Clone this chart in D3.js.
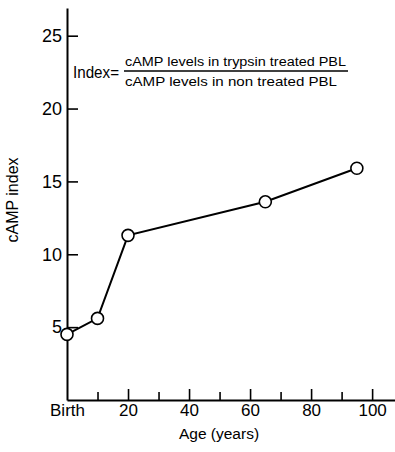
<!DOCTYPE html>
<html>
<head>
<meta charset="utf-8">
<script src="https://cdn.jsdelivr.net/npm/d3@7"></script>
<style>
  html, body { margin: 0; padding: 0; background: #fff; }
  svg { display: block; font-family: "Liberation Sans", Arial, sans-serif; }
</style>
</head>
<body>
<svg id="chart" width="395" height="452"></svg>
<script>
const ages = [0, 10, 20, 65, 95];
const campIndex = [4.5, 5.6, 11.3, 13.6, 15.9];
const yTicks = [5, 10, 15, 20, 25];
const xMajor = [0, 20, 40, 60, 80, 100];
const xMinor = [10, 30, 50, 70, 90];
const xLabels = ["Birth", "20", "40", "60", "80", "100"];

const svg = d3.select("#chart");
const x = d3.scaleLinear().domain([0, 107.5]).range([67, 395]);
const y = d3.scaleLinear().domain([0, 26.9]).range([400, 8]);

// y axis, ticks pointing inward
const gy = svg.append("g")
  .attr("transform", `translate(${x(0)},0)`)
  .call(d3.axisLeft(y).tickValues(yTicks).tickSizeInner(-11).tickSizeOuter(0).tickPadding(5));
gy.select(".domain").attr("stroke-width", 2);
gy.selectAll(".tick line").attr("stroke-width", 1.6);
gy.selectAll(".tick text").attr("font-size", 18).attr("fill", "#000");

// x axis: minor ticks first, then major ticks with labels
const gxMinor = svg.append("g")
  .attr("transform", `translate(0,${y(0)})`)
  .call(d3.axisBottom(x).tickValues(xMinor).tickSizeInner(-8).tickSizeOuter(0).tickFormat(""));
gxMinor.select(".domain").remove();
gxMinor.selectAll(".tick line").attr("stroke-width", 1.6);

const gx = svg.append("g")
  .attr("transform", `translate(0,${y(0)})`)
  .call(d3.axisBottom(x).tickValues(xMajor).tickSizeInner(-11).tickSizeOuter(0).tickPadding(4)
    .tickFormat((d, i) => xLabels[i]));
gx.select(".domain").attr("stroke-width", 2);
gx.selectAll(".tick line").attr("stroke-width", 1.6).filter(d => d === 0).remove();
gx.selectAll(".tick text").attr("font-size", 17).attr("fill", "#000");

// axis titles
svg.append("text")
  .attr("x", 219).attr("y", 439)
  .attr("text-anchor", "middle")
  .attr("font-size", 15.5)
  .text("Age (years)");

svg.append("text")
  .attr("transform", "translate(18,200) rotate(-90)")
  .attr("text-anchor", "middle")
  .attr("font-size", 16)
  .text("cAMP index");

// formula
const f = svg.append("g");
f.append("text").attr("x", 73).attr("y", 78).attr("font-size", 16)
  .attr("textLength", 46).attr("lengthAdjust", "spacingAndGlyphs").text("Index=");
f.append("line").attr("x1", 124).attr("x2", 348).attr("y1", 71).attr("y2", 71)
  .attr("stroke", "#000").attr("stroke-width", 1.5);
f.append("text").attr("x", 125).attr("y", 65.5).attr("font-size", 12.5)
  .attr("textLength", 221).attr("lengthAdjust", "spacingAndGlyphs")
  .text("cAMP levels in trypsin treated PBL");
f.append("text").attr("x", 125).attr("y", 86).attr("font-size", 12.5)
  .attr("textLength", 212).attr("lengthAdjust", "spacingAndGlyphs")
  .text("cAMP levels in non treated PBL");

// data line + markers
const pts = ages.map((a, i) => [a, campIndex[i]]);
svg.append("path")
  .datum(pts)
  .attr("fill", "none")
  .attr("stroke", "#000")
  .attr("stroke-width", 2)
  .attr("d", d3.line().x(d => x(d[0])).y(d => y(d[1])));

svg.selectAll("circle.pt")
  .data(pts)
  .join("circle")
  .attr("class", "pt")
  .attr("cx", d => x(d[0]))
  .attr("cy", d => y(d[1]))
  .attr("r", 6)
  .attr("fill", "#fff")
  .attr("stroke", "#000")
  .attr("stroke-width", 1.6);
</script>
</body>
</html>
